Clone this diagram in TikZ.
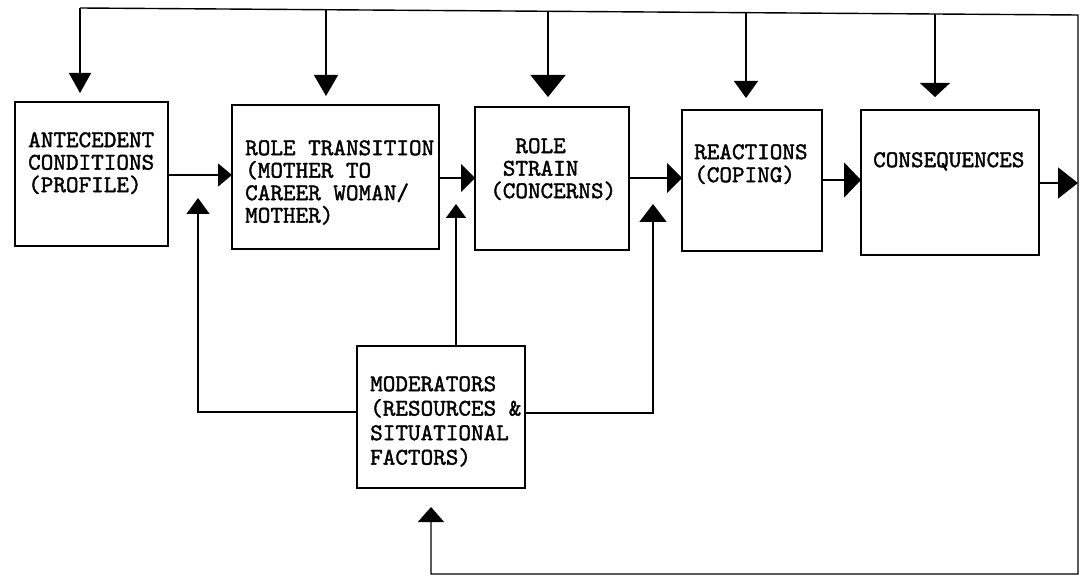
\documentclass[tikz,border=0pt]{standalone}
\usepackage{fontspec}
\usetikzlibrary{arrows.meta}
\newfontfamily\tw{lmmono10-regular.otf}[FakeBold=1.5]
\begin{document}
\begin{tikzpicture}[x=1pt,y=-1pt,
  box/.style={draw,line width=1.8pt,inner sep=0pt,outer sep=0pt,anchor=north west},
  txt/.style={anchor=north west,inner sep=0pt,align=left,font=\tw\fontsize{24pt}{#1pt}\selectfont},
  con/.style={line width=1.4pt},
  tri/.style 2 args={con,-{Triangle[width=#1pt,length=#2pt]}}]
\fill[white] (0,0) rectangle (1082,577);
\useasboundingbox (0,0) rectangle (1082,577);

% boxes
\node[box,minimum width=153pt,minimum height=144pt] (ant) at (15,102) {};
\node[box,minimum width=207pt,minimum height=144pt] (rt)  at (232,105) {};
\node[box,minimum width=154pt,minimum height=143pt] (rs)  at (475,107) {};
\node[box,minimum width=140pt,minimum height=141pt] (re)  at (682,110) {};
\node[box,minimum width=178pt,minimum height=145pt] (co)  at (861,110) {};
\node[box,minimum width=168pt,minimum height=142pt] (mod) at (357,346) {};

% texts
\node[txt=22.5] (antT) at (28,132) {ANTECEDENT\\CONDITIONS\\(PROFILE)};
\node[txt=22.5] (rtT) at (245,140) {ROLE TRANSITION\\(MOTHER TO\\CAREER WOMAN/\\MOTHER)};
\node[txt=22.5] (rsT) at (490,138) {\hphantom{XX}ROLE\\\hphantom{X}STRAIN\\(CONCERNS)};
\node[txt=23] (reT) at (694,144) {REACTIONS\\(COPING)};
\node[txt=22.5] (coT) at (873,152) {CONSEQUENCES};
\node[txt=24.5] (modT) at (370,376) {MODERATORS\\(RESOURCES \&\\SITUATIONAL\\FACTORS)};

% coordinates
\coordinate (tl) at (80,8);
\coordinate (tr) at (1078,15);
\coordinate (br) at (1078,574);
\coordinate (bm) at (431,574);
\coordinate (bt) at (431,507);
\coordinate (s1) at (80,8);
\coordinate (s2) at (326,9.7);
\coordinate (s3) at (548,11.3);
\coordinate (s4) at (746,12.7);
\coordinate (s5) at (935,14);
\coordinate (d1) at (80,93);
\coordinate (d2) at (326,96);
\coordinate (d3) at (548,97);
\coordinate (d4) at (746,98);
\coordinate (d5) at (935,97);
\coordinate (h1) at (0,175);
\coordinate (h2) at (0,178);
\coordinate (h3) at (0,178);
\coordinate (h4) at (0,180);
\coordinate (h5) at (0,183);
\coordinate (u1) at (198,198);
\coordinate (u2) at (456,204);
\coordinate (u3) at (653,204);
\coordinate (m1) at (0,412);
\coordinate (m3) at (0,413);

% feedback loop
\draw[tri={26}{15}] (tl) -- (tr) -- (br) -- (bm) -- (bt);

% down arrows
\draw[tri={22}{20}] (s1) -- (d1);
\draw[tri={24}{21}] (s2) -- (d2);
\draw[tri={35}{22}] (s3) -- (d3);
\draw[tri={24}{17}] (s4) -- (d4);
\draw[tri={30}{14}] (s5) -- (d5);

% main flow
\draw[tri={23}{14}] (ant.east |- h1) -- (rt.west |- h1);
\draw[tri={28}{14}] (rt.east |- h2) -- (rs.west |- h2);
\draw[tri={30}{15}] (rs.east |- h3) -- (re.west |- h3);
\draw[tri={35}{17}] (re.east |- h4) -- (co.west |- h4);
\draw[tri={31}{20}] (co.east |- h5) -- (tr |- h5);

% moderators
\draw[tri={23}{16}] (mod.west |- m1) -| (u1);
\draw[tri={20}{14}] (mod.north -| u2) -- (u2);
\draw[tri={27}{18}] (mod.east |- m3) -| (u3);
\end{tikzpicture}
\end{document}
